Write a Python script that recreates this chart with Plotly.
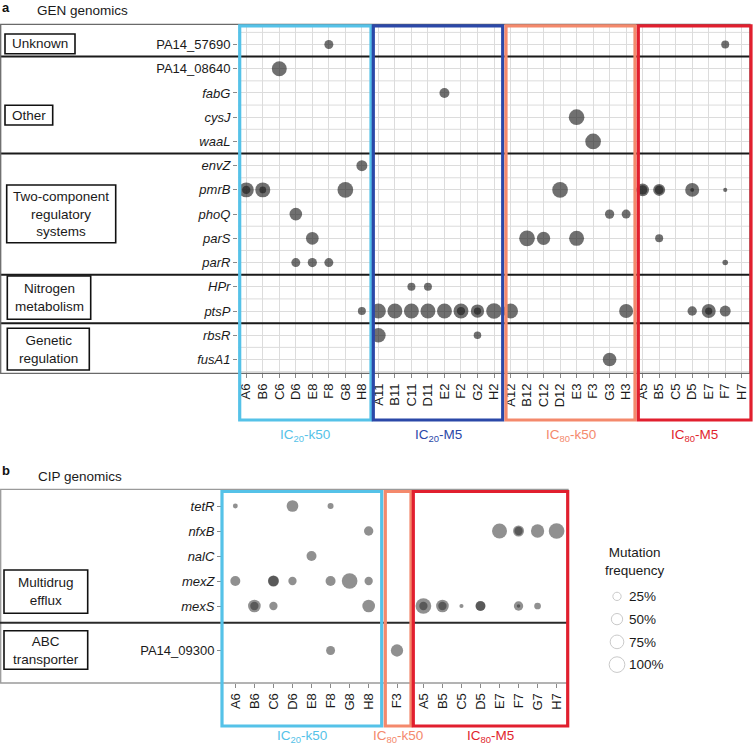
import numpy as np
import plotly.graph_objects as go

W, H = 753, 745
FONT = "Liberation Sans, Arial, Helvetica, sans-serif"


def px(x):
    return x / W


def py(y):
    return 1 - y / H


# ---------------- data : panel a (GEN genomics) ----------------
a_genes = ["PA14_57690", "PA14_08640", "fabG", "cysJ", "waaL", "envZ", "pmrB",
           "phoQ", "parS", "parR", "HPr", "ptsP", "rbsR", "fusA1"]
a_categories = ["Unknown", "Other", "Two-component<br>regulatory<br>systems",
                "Nitrogen<br>metabolism", "Genetic<br>regulation"]
a_category_sizes = [1, 4, 5, 2, 2]
a_columns = ["A6", "B6", "C6", "D6", "E8", "F8", "G8", "H8",
             "A11", "B11", "C11", "D11", "E2", "F2", "G2", "H2",
             "A12", "B12", "C12", "D12", "E3", "F3", "G3", "H3",
             "A5", "B5", "C5", "D5", "E7", "F7", "H7"]
a_groups = ["IC<sub>20</sub>-k50", "IC<sub>20</sub>-M5", "IC<sub>80</sub>-k50", "IC<sub>80</sub>-M5"]

mut_a_gene = ["PA14_57690", "PA14_57690",
              "PA14_08640", "fabG", "cysJ", "waaL", "envZ",
              "pmrB", "pmrB", "pmrB", "pmrB", "pmrB", "pmrB", "pmrB", "pmrB", "pmrB", "pmrB", "pmrB", "pmrB", "pmrB",
              "phoQ", "phoQ", "phoQ",
              "parS", "parS", "parS", "parS", "parS",
              "parR", "parR", "parR", "parR",
              "HPr", "HPr",
              "ptsP", "ptsP", "ptsP", "ptsP", "ptsP", "ptsP", "ptsP", "ptsP", "ptsP", "ptsP", "ptsP",
              "ptsP", "ptsP", "ptsP", "ptsP", "ptsP", "ptsP",
              "rbsR", "rbsR", "fusA1"]
mut_a_col = ["F8", "F7",
             "C6", "E2", "E3", "F3", "H8",
             "A6", "A6", "B6", "B6", "G8", "D12", "A5", "A5", "B5", "B5", "D5", "D5", "F7",
             "D6", "G3", "H3",
             "E8", "B12", "C12", "E3", "B5",
             "D6", "E8", "F8", "F7",
             "C11", "D11",
             "H8", "A11", "B11", "C11", "D11", "E2", "F2", "F2", "G2", "G2", "H2",
             "A12", "H3", "D5", "E7", "E7", "F7",
             "A11", "G2", "G3"]
mut_a_freq = [0.30, 0.23,
              0.91, 0.38, 1.00, 1.00, 0.47,
              0.91, 0.25, 0.91, 0.15, 1.00, 1.00, 0.64, 0.33, 0.57, 0.28, 0.79, 0.02, 0.03,
              0.64, 0.33, 0.30,
              0.64, 1.00, 0.71, 0.91, 0.23,
              0.30, 0.32, 0.30, 0.09,
              0.23, 0.23,
              0.23, 0.91, 0.91, 0.91, 0.91, 0.91, 0.91, 0.25, 0.71, 0.18, 1.00,
              0.91, 0.79, 0.33, 0.79, 0.18, 0.47,
              0.85, 0.20, 0.75]

# ---------------- data : panel b (CIP genomics) ----------------
b_genes_top = ["tetR", "nfxB", "nalC", "mexZ", "mexS"]
b_genes_bottom = ["PA14_09300"]
b_categories = ["Multidrug<br>efflux", "ABC<br>transporter"]
b_column_groups = [["A6", "B6", "C6", "D6", "E8", "F8", "G8", "H8"],
                   ["F3"],
                   ["A5", "B5", "C5", "D5", "E7", "F7", "G7", "H7"]]
b_groups = ["IC<sub>20</sub>-k50", "IC<sub>80</sub>-k50", "IC<sub>80</sub>-M5"]

mut_b_gene = ["tetR", "tetR", "tetR",
              "nfxB", "nfxB", "nfxB", "nfxB", "nfxB", "nfxB",
              "nalC",
              "mexZ", "mexZ", "mexZ", "mexZ", "mexZ", "mexZ", "mexZ",
              "mexS", "mexS", "mexS", "mexS", "mexS", "mexS", "mexS", "mexS", "mexS", "mexS", "mexS",
              "mexS", "mexS", "mexS",
              "PA14_09300", "PA14_09300"]
mut_b_col = ["A6", "D6", "F8",
             "H8", "E7", "F7", "F7", "G7", "H7",
             "E8",
             "A6", "C6", "C6", "D6", "F8", "G8", "H8",
             "B6", "B6", "C6", "H8", "A5", "A5", "B5", "B5", "C5", "D5", "D5",
             "F7", "F7", "G7",
             "F8", "F3"]
mut_b_freq = [0.06, 0.54, 0.11,
              0.33, 0.91, 0.47, 0.25, 0.71, 1.00,
              0.38,
              0.38, 0.47, 0.42, 0.25, 0.38, 1.00, 0.25,
              0.64, 0.25, 0.25, 0.64, 1.00, 0.25, 0.64, 0.25, 0.03, 0.38, 0.35,
              0.33, 0.01, 0.15,
              0.30, 0.60]

legend_levels = [0.25, 0.50, 0.75, 1.00]
legend_labels = ["25%", "50%", "75%", "100%"]


def size_of(f):
    return np.sqrt(10 + 235 * np.asarray(f, dtype=float))


def gene_label(g):
    return g if g.startswith("PA14") else "<i>" + g + "</i>"


fig = go.Figure()

# panel a dots
fig.add_trace(go.Scatter(
    x=mut_a_col, y=mut_a_gene, mode="markers", xaxis="x", yaxis="y",
    marker=dict(size=size_of(mut_a_freq), color="#1c1c1c", opacity=0.63, line=dict(width=0)),
    showlegend=False, hoverinfo="x+y"))

# panel b dots, one trace per facet
for gi, cols in enumerate(b_column_groups):
    for fi, genes in enumerate([b_genes_top, b_genes_bottom]):
        idx = [k for k in range(len(mut_b_gene)) if mut_b_col[k] in cols and mut_b_gene[k] in genes]
        if not idx:
            continue
        fig.add_trace(go.Scatter(
            x=[mut_b_col[k] for k in idx], y=[mut_b_gene[k] for k in idx], mode="markers",
            xaxis="x%d" % (gi + 2), yaxis="y%d" % (fi + 2),
            marker=dict(size=size_of([mut_b_freq[k] for k in idx]), color="#222222",
                        opacity=0.5, line=dict(width=0)),
            showlegend=False, hoverinfo="x+y"))

# size legend
fig.add_trace(go.Scatter(
    x=[0] * len(legend_levels), y=legend_labels, mode="markers", xaxis="x5", yaxis="y5",
    marker=dict(size=size_of(legend_levels), color="white", line=dict(color="#b5b5b5", width=1)),
    showlegend=False, hoverinfo="skip"))

tickfont = dict(family=FONT, size=13, color="#1a1a1a")
common_x = dict(type="category", tickangle=-90, ticks="outside", ticklen=4, tickcolor="#8a8a8a",
                tickfont=tickfont, zeroline=False, showline=False, fixedrange=True)
common_y = dict(type="category", ticks="outside", ticklen=4, tickcolor="#8a8a8a",
                tickfont=tickfont, zeroline=False, showline=False, fixedrange=True)

layout = dict(
    width=W, height=H, margin=dict(l=0, r=0, t=0, b=0), autosize=False,
    paper_bgcolor="white", plot_bgcolor="white", showlegend=False,
    font=dict(family=FONT, color="#1a1a1a"),
    xaxis=dict(common_x, domain=[px(238), px(750)], anchor="y", categoryorder="array",
               categoryarray=a_columns, range=[-0.5, len(a_columns) - 0.5],
               showgrid=True, gridcolor="#dcdcdc", gridwidth=1),
    yaxis=dict(common_y, domain=[py(373.3), py(24.3)], anchor="x", categoryorder="array",
               categoryarray=a_genes, tickvals=a_genes, ticktext=[gene_label(g) for g in a_genes],
               range=[len(a_genes) - 0.43, -0.834], showgrid=True, gridcolor="#dcdcdc", gridwidth=1),
    xaxis2=dict(common_x, domain=[px(222), px(382)], anchor="y3", categoryorder="array",
                categoryarray=b_column_groups[0], range=[-0.7, 7.7], showgrid=False),
    xaxis3=dict(common_x, domain=[px(383.5), px(410.5)], anchor="y3", categoryorder="array",
                categoryarray=b_column_groups[1], range=[-0.7, 0.7], showgrid=False),
    xaxis4=dict(common_x, domain=[px(412), px(568)], anchor="y3", categoryorder="array",
                categoryarray=b_column_groups[2], range=[-0.6, 7.6], showgrid=False),
    yaxis2=dict(common_y, domain=[py(622), py(489)], anchor="x2", categoryorder="array",
                categoryarray=b_genes_top, tickvals=b_genes_top,
                ticktext=[gene_label(g) for g in b_genes_top], range=[4.64, -0.68], showgrid=False),
    yaxis3=dict(common_y, domain=[py(683), py(623)], anchor="x2", categoryorder="array",
                categoryarray=b_genes_bottom, tickvals=b_genes_bottom,
                ticktext=[gene_label(g) for g in b_genes_bottom], range=[0.65, -0.55], showgrid=False),
    xaxis5=dict(domain=[px(606), px(628)], anchor="y5", range=[-1, 1], visible=False, fixedrange=True),
    yaxis5=dict(domain=[py(676), py(585)], anchor="x5", side="right", type="category",
                categoryorder="array", categoryarray=legend_labels, range=[3.5, -0.5],
                showgrid=False, zeroline=False, showline=False, ticks="",
                tickfont=dict(family=FONT, size=13.5, color="#1a1a1a"), fixedrange=True),
)

shapes = []
# half-row grid lines in panel a
for i in range(len(a_genes) + 1):
    shapes.append(dict(type="line", xref="x", yref="y", x0=-0.5, x1=len(a_columns) - 0.5,
                       y0=i - 0.5, y1=i - 0.5, line=dict(color="#dcdcdc", width=1), layer="below"))
# category separators panel a
cum = np.cumsum(a_category_sizes)[:-1]
for c in cum:
    shapes.append(dict(type="line", xref="paper", yref="y", x0=0, x1=px(750),
                       y0=c - 0.5, y1=c - 0.5, line=dict(color="#1a1a1a", width=2)))
# panel a frame
shapes.append(dict(type="rect", xref="paper", yref="paper", x0=px(0.7), x1=px(750), y0=py(373.3),
                   y1=py(24.3), line=dict(color="#6a6a6a", width=1.3)))
# panel b frame & separator
shapes.append(dict(type="rect", xref="paper", yref="paper", x0=px(0.7), x1=px(568), y0=py(683),
                   y1=py(489.3), line=dict(color="#9a9a9a", width=1.3)))
shapes.append(dict(type="line", xref="paper", yref="paper", x0=0, x1=px(568), y0=py(622.7),
                   y1=py(622.7), line=dict(color="#2a2a2a", width=2)))

# category label boxes
a_box = [(5, 75, 34, 53.7), (5, 52.7, 105.3, 125), (6.7, 115.7, 185, 242.7),
         (7.3, 90.7, 276, 319.3), (7.3, 89.3, 328.3, 370)]
b_box = [(4, 87.7, 570, 613.3), (4, 87.7, 630.7, 669.3)]
annotations = []
for (x0, x1, y0, y1), lab in list(zip(a_box, a_categories)) + list(zip(b_box, b_categories)):
    shapes.append(dict(type="rect", xref="paper", yref="paper", x0=px(x0), x1=px(x1),
                       y0=py(y1), y1=py(y0), line=dict(color="#111111", width=1.6)))
    annotations.append(dict(xref="paper", yref="paper", x=px((x0 + x1) / 2), y=py((y0 + y1) / 2),
                            text=lab, showarrow=False, xanchor="center", yanchor="middle",
                            font=dict(family=FONT, size=13.5, color="#1a1a1a")))

# treatment group boxes
col_a = ["#55C2E8", "#2B48A8", "#F4896C", "#E11F2E"]
a_gbox = [(239.7, 371), (373.3, 502.7), (506, 635), (638.3, 751)]
for (x0, x1), c, lab in zip(a_gbox, col_a, a_groups):
    shapes.append(dict(type="rect", xref="paper", yref="paper", x0=px(x0), x1=px(x1),
                       y0=py(420), y1=py(25.8), line=dict(color=c, width=3.2)))
    annotations.append(dict(xref="paper", yref="paper", x=px((x0 + x1) / 2), y=py(435),
                            text=lab, showarrow=False, xanchor="center", yanchor="middle",
                            font=dict(family=FONT, size=13.5, color=c)))
col_b = ["#55C2E8", "#F4896C", "#E11F2E"]
b_gbox = [(222, 381.7), (385.3, 411), (413.3, 567.7)]
for (x0, x1), c, lab in zip(b_gbox, col_b, b_groups):
    shapes.append(dict(type="rect", xref="paper", yref="paper", x0=px(x0), x1=px(x1),
                       y0=py(726), y1=py(491.5), line=dict(color=c, width=3.2)))
    annotations.append(dict(xref="paper", yref="paper", x=px((x0 + x1) / 2), y=py(736),
                            text=lab, showarrow=False, xanchor="center", yanchor="middle",
                            font=dict(family=FONT, size=13.5, color=c)))

# titles
annotations += [
    dict(xref="paper", yref="paper", x=0, y=py(7), text="<b>a</b>", showarrow=False,
         xanchor="left", yanchor="middle", font=dict(family=FONT, size=13, color="#111")),
    dict(xref="paper", yref="paper", x=px(35), y=py(11), text="GEN genomics", showarrow=False,
         xanchor="left", yanchor="middle", font=dict(family=FONT, size=13.5, color="#1a1a1a")),
    dict(xref="paper", yref="paper", x=0, y=py(470), text="<b>b</b>", showarrow=False,
         xanchor="left", yanchor="middle", font=dict(family=FONT, size=13, color="#111")),
    dict(xref="paper", yref="paper", x=px(36), y=py(476), text="CIP genomics", showarrow=False,
         xanchor="left", yanchor="middle", font=dict(family=FONT, size=13.5, color="#1a1a1a")),
    dict(xref="paper", yref="paper", x=px(635), y=py(561), text="Mutation<br>frequency",
         showarrow=False, xanchor="center", yanchor="middle",
         font=dict(family=FONT, size=13.5, color="#1a1a1a")),
]

layout["shapes"] = shapes
layout["annotations"] = annotations
fig.update_layout(**layout)
fig.write_html("out.html", config={"displayModeBar": False},
               post_script="document.body.style.margin='0px';document.body.style.overflow='hidden';")
